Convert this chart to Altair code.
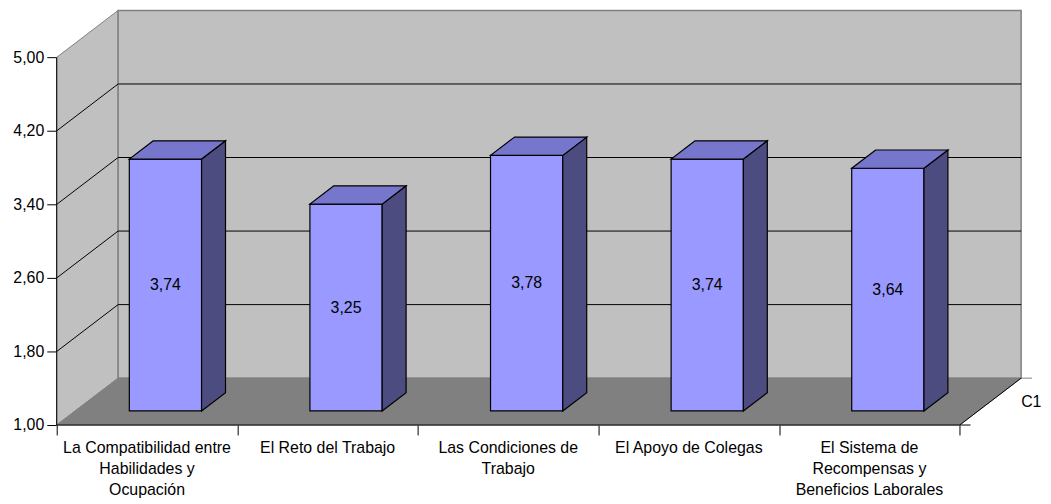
import altair as alt
import pandas as pd

# ---- data ----
categories = [
    "La Compatibilidad entre\nHabilidades y\nOcupación",
    "El Reto del Trabajo",
    "Las Condiciones de\nTrabajo",
    "El Apoyo de Colegas",
    "El Sistema de\nRecompensas y\nBeneficios Laborales",
]
values = [3.74, 3.25, 3.78, 3.74, 3.64]
y_ticks = [1.0, 1.8, 2.6, 3.4, 4.2, 5.0]
series_name = "C1"

# ---- 3D geometry (in data units) ----
N = len(categories)
YMIN, YMAX = 1.0, 5.0
DX, DY = 0.34, 0.51      # full depth of the floor
D0, D1 = 0.30, 0.69      # bar depth span (fraction of floor depth)
BL, BW = 0.30, 0.40      # bar left offset and width within a category
FONT = "Liberation Sans"

xs = alt.Scale(domain=[0, N + DX], nice=False, zero=False)
ys = alt.Scale(domain=[YMIN, YMAX + DY], nice=False, zero=False)

xaxis = alt.Axis(values=list(range(N + 1)), labels=False, domain=False,
                 grid=False, ticks=True, tickSize=10, tickColor="black",
                 tickWidth=1)
yaxis = alt.Axis(values=y_ticks, domain=False, grid=False, ticks=True,
                 tickSize=10, tickColor="black", tickWidth=1,
                 labelFont=FONT, labelFontSize=16, labelColor="black",
                 labelPadding=3,
                 labelExpr="replace(format(datum.value, '.2f'), '.', ',')")


def X(f, **kw):
    return alt.X(f, type="quantitative", scale=xs, axis=xaxis, title=None, **kw)


def Y(f, **kw):
    return alt.Y(f, type="quantitative", scale=ys, axis=yaxis, title=None, **kw)


bars = pd.DataFrame({"i": list(range(N)), "cat": categories, "v": values})
ticks_df = pd.DataFrame({"t": y_ticks})
two = pd.DataFrame({"d": [0.0, 1.0]})
one = pd.DataFrame({"d": [1.0]})

# left wall
left_wall = alt.Chart(two).transform_calculate(
    x=f"datum.d*{DX}", y=f"{YMIN}+datum.d*{DY}", y2=f"{YMAX}+datum.d*{DY}"
).mark_area(fill="#C0C0C0", stroke="#808080", strokeWidth=1, opacity=1).encode(
    x=X("x"), y=Y("y", stack=False), y2=alt.Y2("y2")
)

# back wall
back_wall = alt.Chart(one).transform_calculate(
    x=f"{DX}", x2=f"{N}+{DX}", y=f"{YMIN}+{DY}", y2=f"{YMAX}+{DY}"
).mark_rect(fill="#C0C0C0", stroke="#808080", strokeWidth=1.5).encode(
    x=X("x"), x2=alt.X2("x2"), y=Y("y"), y2=alt.Y2("y2"),
)

# floor
floor = alt.Chart(two).transform_calculate(
    y=f"{YMIN}+datum.d*{DY}", x=f"datum.d*{DX}", x2=f"{N}+datum.d*{DX}"
).mark_area(orient="horizontal", fill="#808080", stroke="#808080", strokeWidth=1, opacity=1).encode(
    y=Y("y"), x=X("x", stack=False), x2=alt.X2("x2")
)

# gridlines
grid_back = alt.Chart(ticks_df).transform_filter(
    f"datum.t > {YMIN} && datum.t < {YMAX}"
).transform_calculate(
    x=f"{DX}", x2=f"{N}+{DX}", y=f"datum.t+{DY}"
).mark_rule(color="black", strokeWidth=1).encode(
    x=X("x"), x2=alt.X2("x2"), y=Y("y")
)
grid_left = alt.Chart(ticks_df).transform_filter(
    f"datum.t > {YMIN} && datum.t < {YMAX}"
).transform_calculate(
    x="0", x2=f"{DX}", y="datum.t", y2=f"datum.t+{DY}"
).mark_rule(color="black", strokeWidth=1).encode(
    x=X("x"), x2=alt.X2("x2"), y=Y("y"), y2=alt.Y2("y2")
)

# frame edges / axis lines
edges = pd.DataFrame([
    dict(x=0, y=YMIN, x2=0, y2=YMAX, c="black"),
    dict(x=0, y=YMIN, x2=N, y2=YMIN, c="black"),
    dict(x=N, y=YMIN, x2=N + DX, y2=YMIN + DY, c="black"),
    dict(x=N, y=YMIN, x2=N + 0.06, y2=YMIN, c="black"),
    dict(x=N + DX, y=YMIN + DY, x2=N + DX + 0.06, y2=YMIN + DY, c="#808080"),
])
edge_rules = alt.Chart(edges).mark_rule(strokeWidth=1).encode(
    x=X("x"), x2=alt.X2("x2"), y=Y("y"), y2=alt.Y2("y2"),
    color=alt.Color("c:N", scale=None),
)

# bars
front = alt.Chart(bars).transform_calculate(
    x=f"datum.i+{BL}+{D0}*{DX}", x2=f"datum.i+{BL}+{BW}+{D0}*{DX}",
    y=f"{YMIN}+{D0}*{DY}", y2=f"datum.v+{D0}*{DY}",
).mark_rect(fill="#9999FF", stroke="black", strokeWidth=1.2).encode(
    x=X("x"), x2=alt.X2("x2"), y=Y("y"), y2=alt.Y2("y2")
)

bars_depth = alt.Chart(bars).transform_calculate(
    d=f"[{D0}, {D1}]"
).transform_flatten(["d"])

side = bars_depth.transform_calculate(
    x=f"datum.i+{BL}+{BW}+datum.d*{DX}", y=f"{YMIN}+datum.d*{DY}",
    y2=f"datum.v+datum.d*{DY}",
).mark_area(fill="#4C4C80", stroke="black", strokeWidth=1.2, opacity=1).encode(
    x=X("x"), y=Y("y", stack=False), y2=alt.Y2("y2"), detail="i:N"
)

top = bars_depth.transform_calculate(
    y=f"datum.v+datum.d*{DY}", x=f"datum.i+{BL}+datum.d*{DX}",
    x2=f"datum.i+{BL}+{BW}+datum.d*{DX}",
).mark_area(orient="horizontal", fill="#7676CC", stroke="black", strokeWidth=1.2, opacity=1).encode(
    y=Y("y"), x=X("x", stack=False), x2=alt.X2("x2"), detail="i:N"
)

# value labels
value_labels = alt.Chart(bars).transform_calculate(
    x=f"datum.i+{BL}+{BW}/2+{D0}*{DX}", y=f"(datum.v+{YMIN})/2+{D0}*{DY}",
    lab="replace(format(datum.v, '.2f'), '.', ',')",
).mark_text(font=FONT, fontSize=16, color="black", align="center", baseline="middle").encode(
    x=X("x"), y=Y("y"), text="lab:N"
)

# category labels
cat_labels = alt.Chart(bars).transform_calculate(
    x="datum.i+0.5", y=f"{YMIN}"
).mark_text(font=FONT, fontSize=16, color="black", align="center", baseline="top",
            lineBreak="\n", lineHeight=21, dy=15).encode(
    x=X("x"), y=Y("y"), text="cat:N"
)

# series (depth) label
series_label = alt.Chart(pd.DataFrame({"s": [series_name]})).transform_calculate(
    x=f"{N}+{DX}", y=f"{YMIN}+{DY}/2"
).mark_text(font=FONT, fontSize=16, color="black", align="left", baseline="middle").encode(
    x=X("x"), y=Y("y"), text="s:N"
)

chart = alt.layer(
    left_wall, back_wall, floor, grid_back, grid_left, edge_rules,
    front, side, top, value_labels, cat_labels, series_label,
).properties(
    width=970, height=417,
    padding={"left": 49, "top": 1, "right": 22, "bottom": 80},
    autosize=alt.AutoSizeParams(type="none"),
    background="white",
).configure_view(strokeWidth=0)

chart.save("out.html", embed_options={"renderer": "svg", "actions": False})
